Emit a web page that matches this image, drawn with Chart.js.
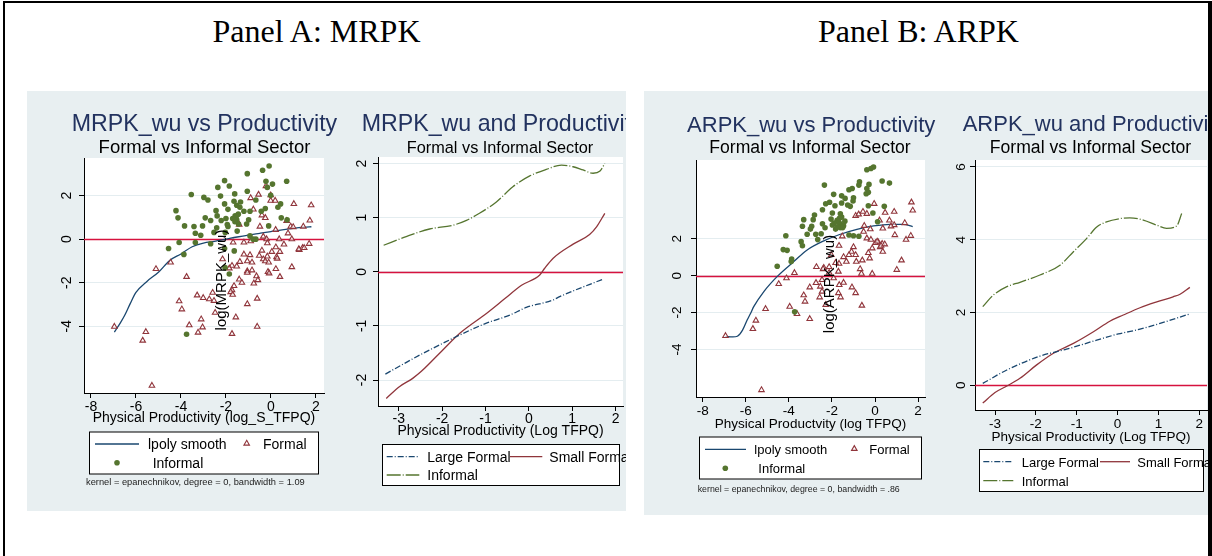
<!DOCTYPE html>
<html>
<head>
<meta charset="utf-8">
<script src="https://cdn.jsdelivr.net/npm/chart.js@4.4.1/dist/chart.umd.min.js"></script>
<style>
  html, body { margin: 0; padding: 0; background: #fff; }
  body { width: 1212px; height: 556px; position: relative; overflow: hidden; font-family: "Liberation Sans", Arial, sans-serif; }
  #frame { position: absolute; left: 3px; top: 1px; width: 1209px; height: 620px; box-sizing: border-box;
           border-left: 2px solid #000; border-top: 2px solid #000; border-right: 4px solid #000; }
  .panel { position: absolute; background: #e8eff1; overflow: hidden; }
  .panel canvas, .panel svg { position: absolute; }
  .t { position: absolute; white-space: nowrap; line-height: 1; color: #000; }
</style>
</head>
<body>
<div id="frame"></div>
<div class="panel" id="panelA" style="left:27px; top:91px; width:599px; height:420px;">
  <canvas id="mrpkScatter" width="303" height="293" style="left:0px; top:47px;"></canvas>
  <canvas id="mrpkLines" width="299" height="308" style="left:303px; top:46px;"></canvas>
</div>
<div class="panel" id="panelB" style="left:644px; top:91px; width:564px; height:424px;">
  <canvas id="arpkScatter" width="287" height="296" style="left:0px; top:49px;"></canvas>
  <canvas id="arpkLines" width="282" height="309" style="left:287px; top:49px;"></canvas>
</div>
<script>
// ---- data ----
const scatterXTicks = [-8, -6, -4, -2, 0, 2];
const scatterYTicks = [-4, -2, 0, 2];
const lineXTicks = [-3, -2, -1, 0, 1, 2];
const mrpkLineYTicks = [-2, -1, 0, 1, 2];
const arpkLineYTicks = [0, 2, 4, 6];

// Panel A, left: log(MRPK_wu) against log_S_TFPQ
const mrpkInformal = [
  [-0.08,3.36],[-0.37,3.17],[-1.05,3.01],[-2.06,2.69],[0.70,2.66],[-0.22,2.66],[-1.85,2.44],[-2.36,2.38],[0.07,2.53],[-0.16,2.38],
  [-3.54,2.05],[-2.98,1.92],[-2.80,1.80],[-2.24,1.98],[-1.61,2.08],[-1.05,2.20],[-0.01,2.02],[-1.64,1.74],[-1.35,1.71],[-0.67,1.80],
  [-2.06,1.62],[-1.52,1.56],[-1.38,1.47],[0.43,1.62],[0.31,1.47],[-0.25,1.41],[-4.22,1.31],[-2.44,1.31],[-1.91,1.37],[-1.20,1.28],
  [-0.93,1.28],[-0.43,1.28],[-4.13,0.98],[-2.92,0.98],[-2.39,1.07],[-2.00,0.95],[-1.59,1.07],[-1.52,0.89],[-0.99,0.89],[0.46,0.98],
  [-2.68,0.86],[-2.21,0.86],[-1.94,0.67],[-1.44,0.70],[-3.84,0.61],[-3.42,0.58],[-3.04,0.61],[-2.41,0.52],[-1.91,0.58],[-1.08,0.70],
  [-0.10,0.61],[0.72,0.89],[-3.36,0.27],[-3.12,0.18],[-2.53,0.31],[-2.03,0.31],[-1.50,0.37],[-0.93,0.15],[-0.67,0.00],[-4.55,-0.43],
  [-4.08,-0.15],[-3.36,-0.15],[-2.68,-0.21],[-3.87,-0.70],[-2.06,-0.43],[-1.85,-1.60],[-3.75,-4.37],[-2.04,-1.31],[-1.63,-0.54],[-0.79,0.00],
  [-1.55,1.00],[-1.45,1.15],[-1.70,0.95],[-1.60,0.80]
];
const mrpkFormal = [
  [-0.90,1.89],[-0.55,2.05],[-0.01,1.77],[0.19,1.77],[1.02,1.62],[1.79,1.56],[-0.78,1.37],[-0.40,1.10],[-0.25,0.98],[1.73,0.86],
  [0.88,0.58],[1.44,0.58],[-0.49,0.58],[0.21,0.43],[0.76,0.27],[-1.41,0.67],[-0.34,0.12],[-0.19,0.00],[0.37,0.00],[0.93,0.00],
  [-1.68,-0.15],[-1.20,-0.15],[-0.90,-0.09],[-0.16,-0.18],[0.58,-0.24],[1.70,-0.21],[1.41,-0.40],[1.26,-0.49],[0.22,-0.37],[0.04,-0.58],
  [0.40,-0.58],[-0.40,-0.52],[-0.52,-0.76],[-0.16,-0.79],[0.25,-0.82],[-1.20,-0.70],[-0.93,-0.73],[-1.38,-1.04],[-1.05,-1.01],[-0.84,-1.07],
  [-0.34,-0.92],[-0.25,-1.01],[-0.10,-1.07],[0.28,-0.89],[-2.15,-0.92],[-1.73,-1.22],[-1.52,-1.25],[-1.85,-1.34],[-1.05,-1.47],[-0.84,-1.43],
  [-0.13,-1.50],[0.22,-1.37],[0.93,-1.28],[-4.46,-1.07],[-5.11,-1.37],[-3.75,-1.73],[-1.05,-1.54],[-0.08,-1.57],[0.40,-1.73],[-1.41,-1.85],
  [-1.29,-2.00],[-1.64,-2.15],[-1.73,-2.34],[-0.76,-2.03],[-0.64,-1.70],[-0.58,-1.88],[-1.79,-2.43],[-1.70,-2.55],[-3.28,-2.58],[-3.01,-2.70],
  [-2.74,-2.76],[-2.53,-2.83],[-2.59,-2.46],[-4.08,-2.85],[-3.96,-3.22],[-1.05,-2.98],[-0.61,-2.73],[-2.48,-3.38],[-3.10,-3.68],[-1.56,-3.59],
  [-3.63,-3.95],[-3.04,-4.05],[-3.24,-4.29],[-0.61,-4.02],[-1.73,-4.35],[-5.56,-4.26],[-5.70,-4.66],[-5.29,-6.73],[-6.96,-4.02],[-0.22,2.44],
  [0.70,0.84],[0.99,0.56],[1.24,-0.46],[1.48,-0.40],[-0.01,2.02]
];
const mrpkSmooth = [
  [-6.96,-4.27],[-6.7,-3.86],[-6.5,-3.5],[-6.25,-2.95],[-6,-2.45],[-5.5,-1.93],[-5,-1.52],[-4.5,-0.98],[-4,-0.68],[-3.5,-0.35],
  [-3,-0.18],[-2.5,-0.1],[-2,0.0],[-1.5,0.1],[-1,0.19],[-0.5,0.27],[0,0.35],[0.5,0.43],[1,0.5],[1.5,0.55],[1.8,0.57]
];

// Panel A, right: fitted curves by sector
const mrpkLarge = [[-3.31,-1.89],[-2.52,-1.54],[-1.98,-1.32],[-1.52,-1.14],[-0.98,-0.95],[-0.44,-0.80],[-0.06,-0.66],[0.56,-0.52],[0.71,-0.46],[1.73,-0.13]];
const mrpkSmall = [[-3.29,-2.34],[-2.98,-2.12],[-2.68,-1.97],[-2.48,-1.84],[-1.98,-1.44],[-1.60,-1.14],[-0.98,-0.77],[-0.56,-0.50],[-0.17,-0.25],[0.25,-0.06],[0.36,0.06],[0.56,0.25],[1.02,0.51],[1.40,0.69],[1.56,0.83],[1.75,1.08]];
const mrpkInf = [[-3.35,0.49],[-2.83,0.65],[-2.29,0.79],[-1.75,0.86],[-1.44,0.95],[-1.14,1.08],[-0.75,1.29],[-0.37,1.57],[0.02,1.77],[0.40,1.89],[0.75,1.97],[1.02,1.94],[1.25,1.88],[1.48,1.82],[1.64,1.86],[1.75,2.0]];

// Panel B, left: log(ARPK_wu) against log TFPQ
const arpkInformal = [
  [-0.07,5.88],[-0.19,5.80],[-0.38,5.73],[0.33,5.12],[0.67,5.01],[-0.72,5.08],[-0.75,4.90],[-2.35,4.90],[-0.28,4.94],[-0.38,4.72],
  [-1.06,4.72],[-1.21,4.65],[-1.92,4.40],[-1.55,4.32],[-1.39,4.18],[-1.00,4.22],[-0.41,4.43],[-0.31,4.51],[-2.11,3.97],[-2.29,3.89],
  [-1.86,3.78],[-1.55,3.93],[-1.27,3.82],[-1.02,4.04],[-1.15,3.75],[-0.31,3.78],[0.43,3.75],[-2.44,3.57],[-1.98,3.39],[-1.61,3.35],
  [-2.81,3.28],[-3.31,3.03],[-2.87,3.03],[-2.44,2.81],[-2.04,3.06],[-1.76,2.99],[-1.55,3.17],[-1.61,2.81],[-1.98,2.74],[-1.46,2.70],
  [-1.83,2.52],[-1.61,2.59],[-2.94,2.67],[-3.00,2.52],[-2.32,2.59],[-3.37,2.67],[-2.50,2.27],[-3.15,2.24],[-2.75,2.24],[-2.66,1.95],
  [-4.14,2.16],[-3.43,1.84],[-3.37,1.62],[-1.21,2.20],[-1.00,2.16],[-0.75,2.13],[0.12,2.92],[-4.26,1.41],[-4.08,1.37],[-3.87,0.90],
  [-3.89,0.76],[-4.54,0.51],[-0.10,3.39],[-3.73,-1.96],[-1.70,2.90],[-1.50,2.60],[-1.65,3.10],[-1.90,2.85],[-1.40,2.95],[-1.75,2.65]
];
const arpkFormal = [
  [1.69,3.97],[1.75,3.53],[0.89,3.46],[-0.04,3.89],[-0.90,3.24],[-0.56,3.46],[-0.38,3.35],[0.21,2.99],[0.67,2.99],[1.38,2.85],
  [0.89,2.74],[-0.50,2.70],[0.36,2.56],[0.74,2.67],[-0.53,2.38],[-0.22,2.52],[-1.52,2.13],[-0.38,2.02],[-0.19,1.95],[0.15,1.81],
  [0.02,1.77],[0.33,1.73],[0.92,2.20],[1.66,2.16],[1.44,1.95],[-1.67,1.62],[-1.00,1.55],[-0.13,1.48],[0.24,1.55],[0.36,1.30],
  [-1.09,1.30],[-0.90,1.12],[-1.46,1.01],[-1.21,1.12],[-0.31,1.23],[-0.25,0.94],[-0.59,0.83],[-0.87,0.76],[-1.33,0.76],[-1.67,0.65],
  [-1.83,0.69],[-2.72,0.47],[-2.38,0.43],[-2.13,0.47],[-1.70,0.22],[-0.69,0.36],[-0.63,0.11],[-0.13,0.11],[1.23,0.83],[1.01,0.32],
  [-3.74,0.15],[-4.11,-0.14],[0.10,1.85],[0.28,1.62],[0.45,1.70],[-4.47,-0.45],[-3.31,-1.06],[-3.25,-1.40],[-3.03,-0.63],[-2.74,-0.39],
  [-2.41,0.36],[-2.46,-0.23],[-2.54,-0.59],[-2.46,-0.86],[-2.57,-1.17],[-2.13,0.16],[-1.92,-0.14],[-1.66,-0.50],[-1.46,-0.38],[-1.70,-0.94],
  [-1.60,-1.17],[-1.07,-0.63],[-0.90,-0.94],[-0.61,-1.62],[-2.03,1.12],[-5.08,-1.80],[-3.96,-1.68],[-6.94,-3.26],[-5.67,-2.88],[-5.53,-2.43],
  [-3.62,-2.07],[-3.03,-2.34],[-5.27,-6.19],[-2.29,-1.58],[0.47,3.41],[-0.76,3.32]
];
const arpkSmooth = [
  [-6.94,-3.3],[-6.6,-3.32],[-6.39,-3.28],[-6.15,-2.95],[-5.93,-2.39],[-5.78,-2.05],[-5.63,-1.68],[-5.16,-0.86],[-4.5,0.0],
  [-3.77,0.76],[-3.15,1.39],[-2.38,1.88],[-1.61,2.24],[-0.84,2.51],[-0.07,2.69],[0.7,2.78],[1.32,2.78],[1.75,2.65]
];

// Panel B, right
const arpkLarge = [[-3.30,0.05],[-2.71,0.42],[-1.90,0.80],[-1.25,0.99],[-0.51,1.24],[0.02,1.41],[0.55,1.54],[1.04,1.70],[1.77,1.96]];
const arpkSmall = [[-3.30,-0.49],[-3.00,-0.20],[-2.71,-0.02],[-2.39,0.19],[-1.98,0.56],[-1.57,0.88],[-1.08,1.15],[-0.59,1.47],[-0.19,1.76],[0.14,1.93],[0.55,2.13],[0.96,2.29],[1.36,2.43],[1.53,2.50],[1.77,2.69]];
const arpkInf = [[-3.30,2.16],[-3.04,2.48],[-2.71,2.71],[-2.39,2.83],[-1.90,3.03],[-1.41,3.30],[-1.08,3.67],[-0.76,4.03],[-0.51,4.35],[-0.27,4.49],[0.06,4.58],[0.30,4.60],[0.63,4.54],[0.96,4.40],[1.20,4.31],[1.45,4.38],[1.57,4.72]];

// ---- style ----
const navy = '#1a476f', maroon = '#90353b', green = '#55752f';
const zeroRed = '#d6123e', gridColor = '#e4edf0', titleNavy = '#22325f';
const largeDash = [6, 2, 1, 2], infDash = [14, 2, 1, 2];

Chart.defaults.font.family = '"Liberation Sans", Arial, sans-serif';
Chart.defaults.color = '#000';

const pts = arr => arr.map(p => ({ x: p[0], y: p[1] }));

const plotBg = {
  id: 'plotBg',
  beforeDraw(chart) {
    const { ctx, chartArea: a } = chart;
    ctx.save();
    ctx.fillStyle = '#fff';
    ctx.fillRect(a.left, a.top, a.right - a.left, a.bottom - a.top);
    ctx.restore();
  }
};

// red reference line at y = 0, behind the marks
const zeroLine = {
  id: 'zeroLine',
  beforeDatasetsDraw(chart) {
    const { ctx, chartArea: a, scales } = chart;
    const y = Math.round(scales.y.getPixelForValue(0)) + 0.5;
    ctx.save();
    ctx.strokeStyle = zeroRed;
    ctx.lineWidth = 1.6;
    ctx.beginPath();
    ctx.moveTo(a.left, y);
    ctx.lineTo(a.right, y);
    ctx.stroke();
    ctx.restore();
  }
};

function scatterSets(smooth, formal, informal) {
  return [
    { data: pts(smooth), showLine: true, borderColor: navy, borderWidth: 1.3, pointRadius: 0,
      cubicInterpolationMode: 'monotone', order: 3 },
    { data: pts(formal), pointStyle: 'triangle', pointRadius: 3.2, borderWidth: 1.1,
      borderColor: maroon, backgroundColor: 'rgba(255,255,255,0.6)', order: 2 },
    { data: pts(informal), pointStyle: 'circle', pointRadius: 2.8, borderWidth: 0,
      backgroundColor: green, order: 1 }
  ];
}

function lineSets(large, small, inf) {
  const base = { showLine: true, pointRadius: 0, borderWidth: 1.3, cubicInterpolationMode: 'monotone' };
  return [
    Object.assign({ data: pts(large), borderColor: navy, borderDash: largeDash }, base),
    Object.assign({ data: pts(small), borderColor: maroon }, base),
    Object.assign({ data: pts(inf), borderColor: green, borderDash: infDash }, base)
  ];
}

function buildChart(id, s) {
  return new Chart(document.getElementById(id), {
    type: 'scatter',
    data: { datasets: s.datasets },
    plugins: [plotBg, zeroLine],
    options: {
      responsive: false,
      animation: false,
      events: [],
      layout: { padding: { left: 0, top: 20, right: 6, bottom: 2 } },
      plugins: { legend: { display: false }, tooltip: { enabled: false } },
      scales: {
        x: {
          type: 'linear', min: s.xMin, max: s.xMax,
          afterBuildTicks: sc => { sc.ticks = s.xTicks.map(v => ({ value: v })); },
          afterFit: sc => { sc.height = s.xh; },
          grid: { drawOnChartArea: false, tickLength: 5, tickColor: '#000' },
          border: { color: '#000', width: 1 },
          ticks: { font: { size: s.font }, color: '#000', padding: s.xPad, maxRotation: 0, callback: v => String(v) },
          title: { display: true, text: s.xTitle, color: '#000', font: { size: s.font },
                   padding: { top: 0, bottom: s.titlePad } }
        },
        y: {
          type: 'linear', min: s.yMin, max: s.yMax,
          afterBuildTicks: sc => { sc.ticks = s.yTicks.map(v => ({ value: v })); },
          afterFit: sc => { sc.width = s.yw; },
          grid: { color: gridColor, tickColor: '#000', tickLength: 5 },
          border: { color: '#000', width: 1 },
          ticks: { font: { size: s.font }, color: '#000', padding: s.yPad, minRotation: 90, maxRotation: 90,
                   crossAlign: 'center', callback: v => String(v) }
        }
      }
    }
  });
}

buildChart('mrpkScatter', {
  datasets: scatterSets(mrpkSmooth, mrpkFormal, mrpkInformal),
  xMin: -8.31, xMax: 2.36, xTicks: scatterXTicks,
  yMin: -7.07, yMax: 3.73, yTicks: scatterYTicks,
  yw: 57, xh: 36, font: 14, xPad: 1, yPad: 6, titlePad: 2.5,
  xTitle: 'Physical Productivity (log_S_TFPQ)'
});

buildChart('mrpkLines', {
  datasets: lineSets(mrpkLarge, mrpkSmall, mrpkInf),
  xMin: -3.48, xMax: 2.17, xTicks: lineXTicks,
  yMin: -2.48, yMax: 2.12, yTicks: mrpkLineYTicks,
  yw: 48, xh: 37, font: 14, xPad: 0, yPad: 5, titlePad: 3,
  xTitle: 'Physical Productivity (Log TFPQ)'
});

buildChart('arpkScatter', {
  datasets: scatterSets(arpkSmooth, arpkFormal, arpkInformal),
  xMin: -8.31, xMax: 2.32, xTicks: scatterXTicks,
  yMin: -6.57, yMax: 6.26, yTicks: scatterYTicks,
  yw: 52, xh: 37, font: 13.5, xPad: 1.5, yPad: 8, titlePad: 2,
  xTitle: 'Physical Productvity (log TFPQ)'
});

buildChart('arpkLines', {
  datasets: lineSets(arpkLarge, arpkSmall, arpkInf),
  xMin: -3.49, xMax: 2.19, xTicks: lineXTicks,
  yMin: -0.68, yMax: 6.19, yTicks: arpkLineYTicks,
  yw: 44, xh: 37, font: 13.5, xPad: 1, yPad: 4.5, titlePad: 2,
  xTitle: 'Physical Productivity (Log TFPQ)'
});

// ---- text and legends (page coordinates) ----
const panels = {
  page: { el: document.body, ox: 0, oy: 0 },
  A: { el: document.getElementById('panelA'), ox: 27, oy: 91 },
  B: { el: document.getElementById('panelB'), ox: 644, oy: 91 }
};

function text(p, s, x, y, size, o = {}) {
  const d = document.createElement('div');
  d.className = 't';
  d.textContent = s;
  d.style.left = (x - p.ox) + 'px';
  d.style.top = (y - p.oy) + 'px';
  d.style.fontSize = size + 'px';
  if (o.color) d.style.color = o.color;
  if (o.serif) d.style.fontFamily = '"Liberation Serif", "Times New Roman", serif';
  if (o.rot) d.style.transform = 'translate(-50%,-50%) rotate(-90deg)';
  else d.style.transform = o.center ? 'translate(-50%,-50%)' : 'translateY(-50%)';
  p.el.appendChild(d);
}

function svgLayer(p, parts) {
  const ns = 'http://www.w3.org/2000/svg';
  const svg = document.createElementNS(ns, 'svg');
  svg.setAttribute('width', p.el.offsetWidth);
  svg.setAttribute('height', p.el.offsetHeight);
  svg.style.left = '0px';
  svg.style.top = '0px';
  const g = document.createElementNS(ns, 'g');
  g.setAttribute('transform', `translate(${-p.ox},${-p.oy})`);
  parts.forEach(([tag, attrs]) => {
    const e = document.createElementNS(ns, tag);
    Object.entries(attrs).forEach(([k, v]) => e.setAttribute(k, v));
    g.appendChild(e);
  });
  svg.appendChild(g);
  p.el.appendChild(svg);
}

const tri = (x, y, r) => `${x},${y - r} ${x + r * 0.866},${y + r / 2} ${x - r * 0.866},${y + r / 2}`;
const box = (x1, y1, x2, y2) => ['rect', { x: x1, y: y1, width: x2 - x1, height: y2 - y1, fill: '#fff', stroke: '#000', 'stroke-width': 1 }];
const seg = (x1, x2, y, color, dash) => ['line', { x1, x2, y1: y, y2: y, stroke: color, 'stroke-width': 1.3, 'stroke-dasharray': dash || 'none' }];

// panel headers
text(panels.page, 'Panel A: MRPK', 316.5, 30.5, 32, { serif: true, center: true });
text(panels.page, 'Panel B: ARPK', 918.5, 30.5, 32, { serif: true, center: true });

// Panel A
svgLayer(panels.A, [
  box(89.5, 432, 318.5, 474),
  seg(95, 139, 444, navy),
  ['polygon', { points: tri(246.7, 443.5, 3.2), fill: '#fff', stroke: maroon, 'stroke-width': 1.1 }],
  ['circle', { cx: 117, cy: 462.7, r: 2.8, fill: green }],
  box(382.5, 444.5, 619.5, 485.5),
  seg(386.7, 419.3, 456.7, navy, largeDash.join(' ')),
  seg(510, 542.3, 456.7, maroon),
  seg(386.7, 419.3, 475, green, infDash.join(' '))
]);
text(panels.A, 'MRPK_wu vs Productivity', 204.5, 123.8, 23.2, { center: true, color: titleNavy });
text(panels.A, 'Formal vs Informal Sector', 204.5, 147.2, 18.5, { center: true });
text(panels.A, 'log(MRPK_wu)', 220, 280, 15, { rot: true });
text(panels.A, 'lpoly smooth', 148, 444, 14);
text(panels.A, 'Formal', 263, 443.5, 14);
text(panels.A, 'Informal', 152.7, 462.7, 14);
text(panels.A, 'kernel = epanechnikov, degree = 0, bandwidth = 1.09', 86, 483, 9.3, { color: '#222' });
text(panels.A, 'MRPK_wu and Productivity', 361.7, 123.5, 23.2, { color: titleNavy });
text(panels.A, 'Formal vs Informal Sector', 500, 147, 16.3, { center: true });
text(panels.A, 'Large Formal', 427.3, 456.7, 14);
text(panels.A, 'Small Formal', 549.3, 456.7, 14);
text(panels.A, 'Informal', 427.3, 475, 14);

// Panel B
svgLayer(panels.B, [
  box(699.5, 437, 921.5, 479),
  seg(705, 746, 449.3, navy),
  ['polygon', { points: tri(854.3, 448.8, 3.2), fill: '#fff', stroke: maroon, 'stroke-width': 1.1 }],
  ['circle', { cx: 725.3, cy: 468.3, r: 2.8, fill: green }],
  box(979.5, 449.5, 1203.5, 491.5),
  seg(983.3, 1013.3, 461.7, navy, largeDash.join(' ')),
  seg(1100, 1130, 461.7, maroon),
  seg(983.3, 1013.3, 480.7, green, infDash.join(' '))
]);
text(panels.B, 'ARPK_wu vs Productivity', 811.2, 124.7, 22, { center: true, color: titleNavy });
text(panels.B, 'Formal vs Informal Sector', 810, 147.8, 17.6, { center: true });
text(panels.B, 'log(ARPK_wu)', 828, 284, 15, { rot: true });
text(panels.B, 'lpoly smooth', 754.3, 449.3, 13);
text(panels.B, 'Formal', 869.3, 448.8, 13);
text(panels.B, 'Informal', 758.3, 468.3, 13);
text(panels.B, 'kernel = epanechnikov, degree = 0, bandwidth = .86', 697.7, 489, 8.8, { color: '#222' });
text(panels.B, 'ARPK_wu and Productivity', 962.7, 124.2, 22, { color: titleNavy });
text(panels.B, 'Formal vs Informal Sector', 1090.5, 147.5, 17.6, { center: true });
text(panels.B, 'Large Formal', 1021.7, 461.7, 13);
text(panels.B, 'Small Formal', 1137.3, 461.7, 13);
text(panels.B, 'Informal', 1021.7, 480.7, 13);
</script>
</body>
</html>
